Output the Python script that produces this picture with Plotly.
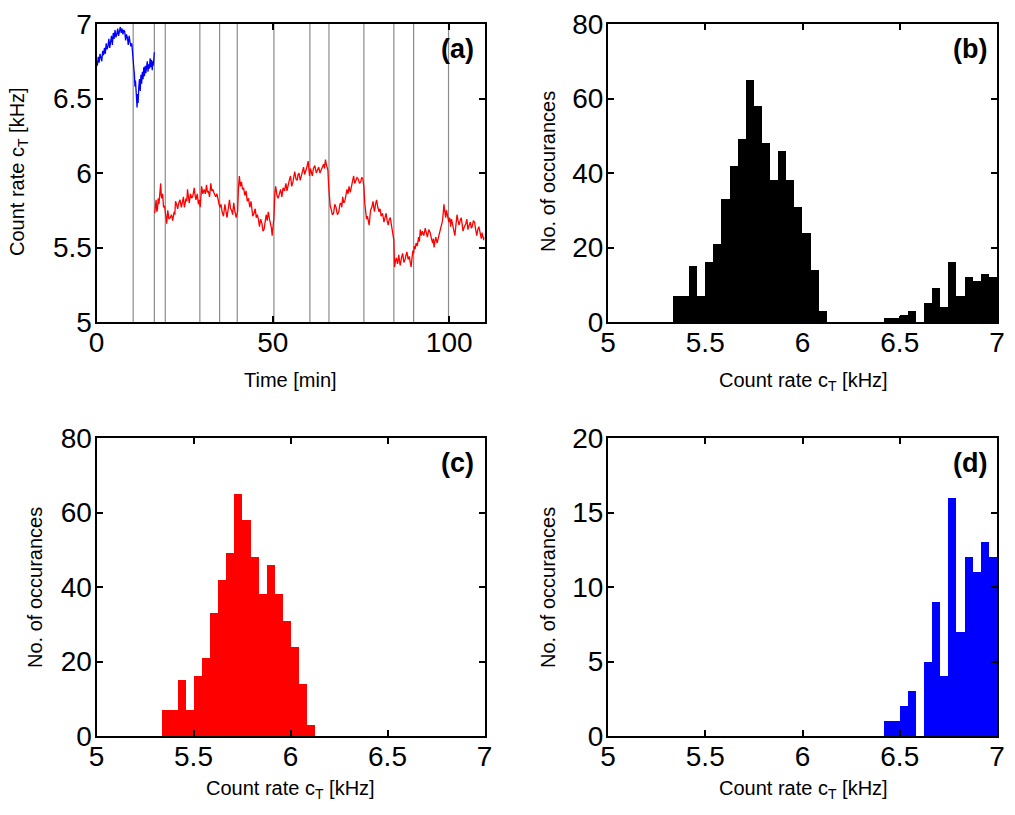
import numpy as np
import plotly.graph_objects as go

# ---------------- data ----------------
# panel (a): count rate time trace (blue part, then red part)
blue_t = [0, 0.25, 0.5, 0.75, 1, 1.25, 1.5, 1.75, 2, 2.25, 2.5, 2.75, 3, 3.25, 3.5, 3.75, 4,
          4.25, 4.5, 4.75, 5, 5.25, 5.5, 5.75, 6, 6.25, 6.5, 6.75, 7, 7.25, 7.5, 7.75, 8, 8.25,
          8.5, 8.75, 9, 9.25, 9.5, 9.75, 10, 10.15, 10.3, 10.45, 10.6, 10.75, 10.9, 11.05, 11.2,
          11.35, 11.5, 11.65, 11.8, 12.0, 12.2, 12.4, 12.6, 12.8, 13, 13.2, 13.4, 13.6, 13.8,
          14.0, 14.2, 14.4, 14.6, 14.8, 15, 15.2, 15.4, 15.6, 15.8, 15.95, 16.1, 16.25, 16.4]
blue_v = [6.75, 6.72, 6.78, 6.74, 6.80, 6.77, 6.75, 6.82, 6.79, 6.84, 6.80, 6.87, 6.83, 6.85,
          6.90, 6.84, 6.88, 6.92, 6.86, 6.94, 6.90, 6.96, 6.91, 6.93, 6.97, 6.92, 6.95, 6.98,
          6.94, 6.97, 6.93, 6.96, 6.95, 6.89, 6.93, 6.91, 6.86, 6.92, 6.88, 6.85, 6.87, 6.81,
          6.82, 6.74, 6.70, 6.66, 6.58, 6.62, 6.52, 6.56, 6.44, 6.53, 6.47, 6.58, 6.63, 6.55,
          6.66, 6.60, 6.68, 6.63, 6.71, 6.65, 6.72, 6.67, 6.70, 6.75, 6.68, 6.73, 6.70, 6.77,
          6.71, 6.76, 6.69, 6.75, 6.72, 6.79, 6.81]

red_t = [16.5, 16.7, 16.9, 17.1, 17.3, 17.5, 17.7, 17.95, 18.2, 18.35, 18.5, 18.75, 19.0, 19.3,
         19.6, 19.9, 20.2, 20.55, 20.9, 21.25, 21.6, 21.8, 22.0, 22.2, 22.4, 22.7, 23.0, 23.35,
         23.7, 24.05, 24.4, 24.65, 24.9, 25.15, 25.4, 25.6, 25.8, 26.05, 26.3, 26.65, 27.0,
         27.35, 27.7, 27.95, 28.2, 28.55, 28.9, 29.15, 29.4, 29.6, 29.8, 30.15, 30.5, 30.85,
         31.2, 31.45, 31.7, 32.05, 32.4, 32.7, 33.0, 33.4, 33.8, 34.15, 34.5, 34.75, 35.0, 35.3,
         35.6, 36.0, 36.4, 36.7, 37.0, 37.35, 37.7, 38.0, 38.3, 38.6, 38.9, 39.25, 39.6, 39.8,
         40.0, 40.25, 40.5, 40.8, 41.1, 41.4, 41.7, 42.05, 42.4, 42.75, 43.1, 43.45, 43.8, 44.05,
         44.3, 44.65, 45.0, 45.3, 45.6, 45.9, 46.2, 46.55, 46.9, 47.2, 47.5, 47.8, 48.1, 48.4,
         48.7, 49.05, 49.4, 49.6, 49.8, 50.05, 50.3, 50.55, 50.8, 51.15, 51.5, 51.85, 52.2, 52.55,
         52.9, 53.3, 53.7, 54.0, 54.3, 54.65, 55.0, 55.35, 55.7, 55.95, 56.2, 56.55, 56.9, 57.15,
         57.4, 57.75, 58.1, 58.4, 58.7, 59.0, 59.3, 59.65, 60.0, 60.2, 60.4, 60.65, 60.9, 61.2,
         61.5, 61.9, 62.3, 62.65, 63.0, 63.35, 63.7, 64.05, 64.4, 64.65, 64.9, 65.25, 65.6, 65.8,
         66.0, 66.25, 66.5, 66.85, 67.2, 67.55, 67.9, 68.3, 68.7, 69.0, 69.3, 69.55, 69.8, 70.1,
         70.4, 70.7, 71.0, 71.3, 71.6, 71.95, 72.3, 72.6, 72.9, 73.2, 73.5, 73.85, 74.2, 74.55,
         74.9, 75.2, 75.5, 75.65, 75.8, 76.05, 76.3, 76.55, 76.8, 77.05, 77.3, 77.5, 77.7, 78.05,
         78.4, 78.6, 78.8, 79.1, 79.4, 79.75, 80.1, 80.4, 80.7, 81.1, 81.5, 81.8, 82.1, 82.4,
         82.7, 83.0, 83.3, 83.55, 83.8, 84.05, 84.3, 84.4, 84.5, 84.75, 85.0, 85.35, 85.7, 85.9,
         86.1, 86.45, 86.8, 87.15, 87.5, 87.75, 88.0, 88.35, 88.7, 88.95, 89.2, 89.45, 89.7,
         89.9, 90.1, 90.35, 90.6, 90.95, 91.3, 91.55, 91.8, 92.1, 92.4, 92.8, 93.2, 93.5, 93.8,
         94.2, 94.6, 94.95, 95.3, 95.5, 95.7, 95.95, 96.2, 96.55, 96.9, 97.25, 97.6, 97.85, 98.1,
         98.3, 98.5, 98.75, 99.0, 99.2, 99.4, 99.65, 99.9, 100.15, 100.4, 100.65, 100.9, 101.25,
         101.6, 101.9, 102.2, 102.5, 102.8, 103.1, 103.4, 103.65, 103.9, 104.3, 104.7, 105.0,
         105.3, 105.65, 106.0, 106.25, 106.5, 106.85, 107.2, 107.5, 107.8, 108.1, 108.4, 108.75,
         109.1, 109.3, 109.5, 109.65, 109.8, 110.0]
red_v = [5.73, 5.79, 5.82, 5.74, 5.76, 5.83, 5.79, 5.86, 5.93, 5.85, 5.83, 5.86, 5.77, 5.78,
         5.70, 5.66, 5.75, 5.69, 5.70, 5.72, 5.68, 5.70, 5.74, 5.72, 5.81, 5.79, 5.76, 5.80,
         5.82, 5.77, 5.80, 5.84, 5.77, 5.80, 5.83, 5.81, 5.89, 5.84, 5.80, 5.86, 5.83, 5.85,
         5.90, 5.85, 5.82, 5.86, 5.79, 5.82, 5.77, 5.84, 5.91, 5.86, 5.89, 5.86, 5.92, 5.87,
         5.88, 5.84, 5.93, 5.88, 5.89, 5.86, 5.84, 5.86, 5.81, 5.79, 5.77, 5.79, 5.74, 5.71,
         5.79, 5.74, 5.70, 5.76, 5.82, 5.76, 5.75, 5.72, 5.80, 5.74, 5.70, 5.72, 5.74, 5.90,
         5.98, 5.91, 5.94, 5.89, 5.90, 5.85, 5.88, 5.81, 5.83, 5.77, 5.81, 5.76, 5.71, 5.73,
         5.76, 5.70, 5.72, 5.69, 5.64, 5.69, 5.66, 5.61, 5.62, 5.67, 5.72, 5.68, 5.74, 5.69,
         5.66, 5.63, 5.58, 5.64, 5.70, 5.86, 5.91, 5.85, 5.83, 5.86, 5.89, 5.84, 5.90, 5.88,
         5.93, 5.88, 5.92, 5.95, 5.98, 5.91, 5.94, 5.97, 6.01, 5.96, 5.95, 5.99, 6.00, 5.95,
         5.98, 6.01, 6.04, 5.99, 6.01, 6.04, 6.08, 6.03, 5.98, 6.03, 6.01, 5.98, 6.03, 6.05,
         6.00, 6.02, 6.04, 6.00, 6.02, 6.05, 6.06, 6.03, 6.09, 6.05, 6.02, 5.92, 5.82, 5.78,
         5.76, 5.72, 5.73, 5.79, 5.77, 5.72, 5.74, 5.79, 5.80, 5.77, 5.84, 5.80, 5.81, 5.86,
         5.89, 5.86, 5.91, 5.87, 5.91, 5.95, 5.98, 5.93, 5.95, 5.97, 5.96, 5.93, 5.94, 5.97,
         5.96, 5.94, 5.91, 5.80, 5.72, 5.69, 5.71, 5.68, 5.65, 5.70, 5.75, 5.77, 5.81, 5.77,
         5.74, 5.79, 5.82, 5.77, 5.74, 5.76, 5.71, 5.73, 5.67, 5.70, 5.73, 5.68, 5.65, 5.69,
         5.70, 5.66, 5.63, 5.60, 5.55, 5.45, 5.37, 5.41, 5.43, 5.39, 5.45, 5.41, 5.38, 5.43,
         5.46, 5.40, 5.42, 5.45, 5.47, 5.42, 5.44, 5.40, 5.37, 5.43, 5.48, 5.46, 5.51, 5.49,
         5.53, 5.51, 5.57, 5.54, 5.62, 5.58, 5.61, 5.58, 5.63, 5.60, 5.57, 5.62, 5.60, 5.56,
         5.53, 5.56, 5.50, 5.54, 5.57, 5.53, 5.56, 5.60, 5.62, 5.65, 5.68, 5.73, 5.79, 5.74,
         5.70, 5.75, 5.73, 5.69, 5.67, 5.70, 5.64, 5.69, 5.66, 5.62, 5.58, 5.65, 5.72, 5.68,
         5.65, 5.68, 5.70, 5.66, 5.61, 5.64, 5.66, 5.69, 5.62, 5.65, 5.67, 5.63, 5.64, 5.68,
         5.67, 5.62, 5.58, 5.62, 5.64, 5.60, 5.56, 5.60, 5.58, 5.56, 5.55, 5.57]

# times of the grey segment markers in (a)
marker_times = [10.4, 16.4, 19.5, 29.3, 34.9, 39.9, 50.3, 60.5, 65.9, 75.8, 84.3, 89.9, 99.8]

# histograms: 40 bins starting at 5.3333 kHz, width 1/24 kHz
bin_start = 5.3333
bin_width = 1.0 / 24.0
red_counts = [7, 7, 15, 7, 16, 21, 33, 42, 49, 65, 58, 48, 38, 46, 38, 31, 24, 14, 3,
              0, 0, 0, 0, 0, 0, 0, 0, 0, 0, 0, 0, 0, 0, 0, 0, 0, 0, 0, 0, 0]
blue_counts = [0, 0, 0, 0, 0, 0, 0, 0, 0, 0, 0, 0, 0, 0, 0, 0, 0, 0, 0, 0, 0, 0, 0, 0, 0, 0,
               1, 1, 2, 3, 0, 5, 9, 4, 16, 7, 12, 11, 13, 12]
total_counts = [r + b for r, b in zip(red_counts, blue_counts)]

hist_ticks = [5, 5.5, 6, 6.5, 7]
hist_ticktext = ["5", "5.5", "6", "6.5", "7"]

# ---------------- figure ----------------
W, H = 1015, 815
FONT = "Liberation Sans, Arial, Helvetica, sans-serif"
TICKFS = 28
LABFS = 20

centers = [bin_start + (k + 0.5) * bin_width for k in range(len(red_counts))]

def nz(vals):
    return [v if v > 0 else None for v in vals]

fig = go.Figure()

# (a)
fig.add_trace(go.Scatter(x=blue_t, y=blue_v, mode="lines", line=dict(color="#0000FF", width=1.3),
                         xaxis="x", yaxis="y", showlegend=False))
fig.add_trace(go.Scatter(x=red_t, y=red_v, mode="lines", line=dict(color="#FF0000", width=1.3),
                         xaxis="x", yaxis="y", showlegend=False))

# (b)
fig.add_trace(go.Bar(x=centers, y=nz(total_counts), width=bin_width,
                     marker=dict(color="black", line=dict(width=0)),
                     xaxis="x2", yaxis="y2", showlegend=False))
# (c)
fig.add_trace(go.Bar(x=centers, y=nz(red_counts), width=bin_width,
                     marker=dict(color="#FF0000", line=dict(width=0)),
                     xaxis="x3", yaxis="y3", showlegend=False))
# (d)
fig.add_trace(go.Bar(x=centers, y=nz(blue_counts), width=bin_width,
                     marker=dict(color="#0000FF", line=dict(width=0)),
                     xaxis="x4", yaxis="y4", showlegend=False))

shapes = []
for t in marker_times:
    shapes.append(dict(type="line", xref="x", yref="y domain", x0=t, x1=t, y0=0, y1=1,
                       line=dict(color="#8c8c8c", width=1.2), layer="below"))

def px_dom(a, b, total):
    return [a / total, b / total]

xa_dom = px_dom(96.5, 484.5, W)
xb_dom = px_dom(608, 997, W)
ytop_dom = [1 - 322 / H, 1 - 24 / H]
ybot_dom = [1 - 736 / H, 1 - 438 / H]

axbase = dict(showline=True, linecolor="black", linewidth=2, mirror="ticks", ticks="inside",
              ticklen=6, tickwidth=1.5, tickcolor="black", showgrid=False, zeroline=False,
              automargin=False,
              tickfont=dict(family=FONT, size=TICKFS, color="black"))
xbase = dict(axbase, ticklabelstandoff=-6)
ybase = dict(axbase, ticklabelstandoff=-3)

fig.update_layout(
    width=W, height=H, margin=dict(l=0, r=0, t=0, b=0, pad=0, autoexpand=False),
    paper_bgcolor="white", plot_bgcolor="white", bargap=0, barmode="overlay",
    font=dict(family=FONT, color="black"),
    shapes=shapes,
    xaxis=dict(xbase, domain=xa_dom, range=[0, 110], tickvals=[0, 50, 100], anchor="y"),
    yaxis=dict(ybase, domain=ytop_dom, range=[5, 7], tickvals=[5, 5.5, 6, 6.5, 7],
               ticktext=["5", "5.5", "6", "6.5", "7"], anchor="x"),
    xaxis2=dict(xbase, domain=xb_dom, range=[5, 7], tickvals=hist_ticks,
                ticktext=hist_ticktext, anchor="y2"),
    yaxis2=dict(ybase, domain=ytop_dom, range=[0, 80], tickvals=[0, 20, 40, 60, 80], anchor="x2"),
    xaxis3=dict(xbase, domain=xa_dom, range=[5, 7], tickvals=hist_ticks,
                ticktext=hist_ticktext, anchor="y3"),
    yaxis3=dict(ybase, domain=ybot_dom, range=[0, 80], tickvals=[0, 20, 40, 60, 80], anchor="x3"),
    xaxis4=dict(xbase, domain=xb_dom, range=[5, 7], tickvals=hist_ticks,
                ticktext=hist_ticktext, anchor="y4"),
    yaxis4=dict(ybase, domain=ybot_dom, range=[0, 20], tickvals=[0, 5, 10, 15, 20], anchor="x4"),
)

def ann(text, x, y, size=LABFS, angle=0, bold=False, xanchor="center"):
    if bold:
        text = "<b>" + text + "</b>"
    fig.add_annotation(text=text, x=x / W, y=1 - y / H, xref="paper", yref="paper",
                       showarrow=False, textangle=angle, xanchor=xanchor, yanchor="middle",
                       font=dict(family=FONT, size=size, color="black"))

ctlab = "Count rate c<sub>T</sub> [kHz]"
ann("Time [min]", 290, 380)
ann(ctlab, 18, 172, angle=-90)
ann(ctlab, 803, 381)
ann("No. of occurances", 548, 172, angle=-90)
ann(ctlab, 290, 789)
ann("No. of occurances", 35, 588, angle=-90)
ann(ctlab, 803, 789)
ann("No. of occurances", 548, 588, angle=-90)

ann("(a)", 476, 49, size=27, bold=True, xanchor="right")
ann("(b)", 989, 49, size=27, bold=True, xanchor="right")
ann("(c)", 476, 463, size=27, bold=True, xanchor="right")
ann("(d)", 989, 463, size=27, bold=True, xanchor="right")

fig.write_html("out.html")
